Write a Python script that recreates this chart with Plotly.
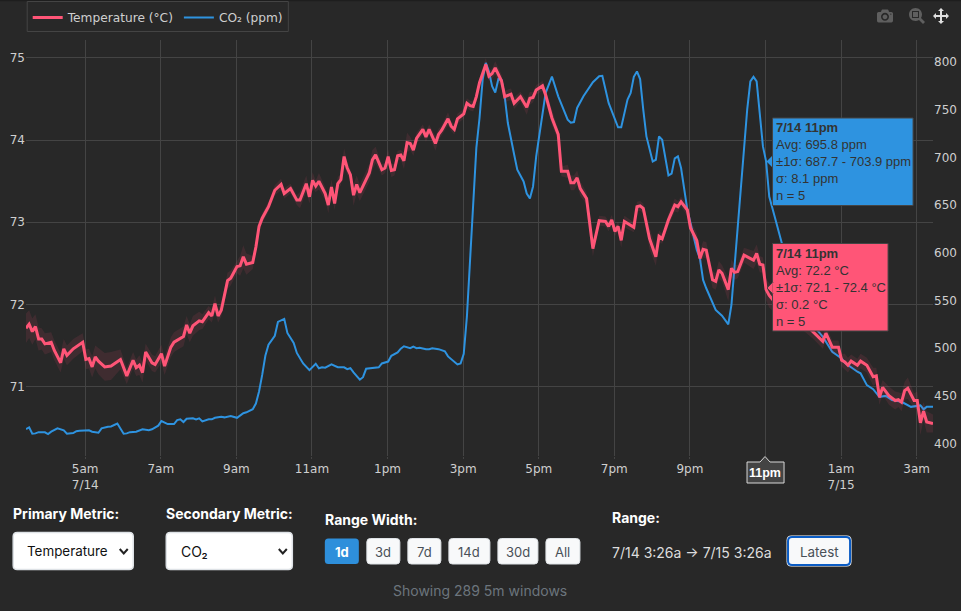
import datetime as dt
import plotly.graph_objects as go

# ---------- data ----------
START = dt.datetime(2024, 7, 14, 3, 26)
STEP_MIN = 5

temp_window = [
 0,1,2,3,4,5,6,8,9,11,
 12,13,15,18,19,20,21,22,23,25,
 27,30,32,34,35,36,37,38,40,41,
 43,44,46,47,50,51,52,53,55,56,
 58,59,60,61,62,64,65,67,68,69,
 70,72,73,74,75,76,77,79,81,82,
 84,86,87,89,90,91,92,93,95,96,
 97,98,99,100,101,102,103,104,105,106,
 109,110,111,113,114,115,116,117,118,119,
 120,121,122,123,124,126,127,128,130,131,
 132,134,135,136,137,139,140,141,142,143,
 144,146,147,148,149,151,152,154,155,157,
 159,160,161,162,164,165,167,168,169,170,
 172,173,174,175,176,178,180,182,184,185,
 186,187,188,189,190,193,194,195,196,198,
 200,201,202,204,206,207,208,210,211,213,
 214,215,216,218,219,220,221,223,224,225,
 226,228,231,232,233,234,235,236,239,245,
 250,251,253,254,256,258,259,260,261,262,
 264,265,267,269,270,271,272,274,276,277,
 278,279,280,282,283,284,285,286,288]
temp_avg = [
 71.71,71.76,71.67,71.73,71.58,71.58,71.52,71.54,71.44,71.29,
 71.46,71.38,71.46,71.54,71.33,71.34,71.24,71.36,71.31,71.24,
 71.25,71.33,71.13,71.32,71.23,71.26,71.17,71.42,71.29,71.27,
 71.40,71.25,71.48,71.54,71.61,71.75,71.65,71.74,71.80,71.79,
 71.90,71.86,72.01,71.86,71.93,72.29,72.32,72.46,72.47,72.58,
 72.49,72.51,72.70,72.95,73.05,73.12,73.19,73.39,73.46,73.35,
 73.41,73.27,73.27,73.47,73.31,73.51,73.44,73.50,73.35,73.21,
 73.43,73.23,73.47,73.52,73.80,73.66,73.58,73.33,73.46,73.36,
 73.60,73.76,73.82,73.64,73.66,73.80,73.63,73.64,73.81,73.82,
 73.75,73.97,73.96,73.88,74.02,74.13,74.04,74.13,73.96,74.07,
 74.12,74.26,74.17,74.13,74.26,74.32,74.45,74.42,74.41,74.53,
 74.70,74.92,74.78,74.81,74.88,74.72,74.53,74.56,74.45,74.53,
 74.40,74.51,74.52,74.61,74.66,74.55,74.27,74.17,74.07,73.62,
 73.62,73.48,73.48,73.54,73.41,73.29,72.68,73.02,73.01,72.95,
 73.03,72.89,72.95,72.78,73.01,72.94,73.19,73.20,73.17,72.80,
 72.58,72.83,72.80,73.03,73.21,73.19,73.25,73.15,72.93,72.78,
 72.56,72.67,72.66,72.30,72.28,72.42,72.38,72.18,72.44,72.39,
 72.40,72.60,72.54,72.62,72.49,72.48,72.18,72.11,71.97,71.85,
 71.67,71.63,71.55,71.65,71.48,71.48,71.32,71.30,71.26,71.31,
 71.26,71.31,71.26,71.12,71.13,70.87,70.99,70.89,70.83,70.84,
 70.81,70.95,70.98,70.83,70.83,70.56,70.70,70.57,70.55]
temp_sigma = [
 .18,.17,.16,.15,.14,.13,.13,.12,.12,.12,
 .12,.12,.12,.11,.12,.12,.13,.14,.16,.17,
 .17,.12,.10,.10,.10,.12,.12,.10,.10,.10,
 .11,.11,.12,.12,.12,.11,.11,.12,.11,.09,
 .08,.08,.10,.08,.08,.10,.09,.08,.12,.14,
 .13,.08,.07,.06,.06,.06,.06,.06,.07,.06,
 .06,.06,.10,.10,.08,.10,.07,.10,.08,.10,
 .09,.08,.08,.07,.10,.08,.06,.13,.11,.10,
 .11,.12,.10,.07,.06,.09,.08,.07,.06,.06,
 .10,.12,.08,.07,.07,.06,.06,.06,.09,.07,
 .06,.08,.06,.06,.06,.06,.06,.06,.06,.06,
 .06,.08,.06,.06,.08,.08,.07,.07,.07,.06,
 .09,.08,.06,.06,.06,.07,.09,.08,.07,.06,
 .08,.09,.09,.09,.09,.07,.10,.06,.06,.06,
 .06,.06,.06,.09,.07,.06,.06,.06,.06,.13,
 .11,.07,.06,.07,.08,.07,.06,.07,.08,.09,
 .09,.10,.10,.10,.10,.11,.10,.14,.11,.09,
 .08,.09,.11,.11,.10,.09,.13,.15,.11,.11,
 .09,.09,.09,.09,.08,.08,.08,.10,.09,.08,
 .08,.09,.09,.11,.10,.09,.09,.11,.11,.09,
 .11,.11,.13,.09,.11,.15,.11,.13,.11]

co2_window = [
 0,1,2,3,4,6,7,8,10,12,13,15,16,17,20,21,23,24,26,27,29,31,32,33,35,37,39,40,42,43,
 45,47,48,49,50,51,53,54,55,56,58,59,60,62,63,65,67,69,70,72,73,74,75,76,77,79,80,82,83,85,
 86,88,90,92,93,94,95,97,99,101,102,103,104,106,107,108,112,113,115,116,118,119,120,122,123,124,125,127,128,129,
 131,133,134,136,137,138,139,140,141,142,143,144,145,146,147,148,149,150,151,152,153,155,156,158,159,160,161,162,164,165,
 167,169,172,173,174,175,177,179,180,182,183,185,188,189,190,191,192,193,194,195,196,197,199,200,201,202,204,205,206,207,
 208,210,212,213,214,215,216,218,219,221,223,224,225,226,227,228,229,230,231,232,233,234,235,236,238,240,245,250,253,254,
 256,259,260,264,265,267,269,271,273,275,278,281,282,284,285,286,288]
co2_avg = [
 415.3,417,410.4,410.7,412,411.8,410,412.5,416,413.9,410.4,411,413,413.5,414,412.5,411.4,416,417.7,418,421,410.4,410.7,412,412.5,415,414,415,418.8,423.7,
 420.5,420.5,424.7,425.4,422.6,426,426.5,425.4,426.5,423.3,425.4,425.4,427,428,427.5,429,427,431.8,432.8,436,442,454.6,472,492,503.7,513,527.5,530.7,516,505.4,
 495,484,477,483.7,479,480,479.5,483,480,480,478,479,474.6,467,469.6,478.4,480,484,486,492,495.6,499.5,502,500,501.6,500,500.5,498.8,499,500,
 499,496.7,491.4,485.4,483,484,494,533,590,655,710,741,781.5,799,790,774.5,768,782,781,764,736,703,687,674.8,662,657,669.5,701,745,767.6,
 784.7,764,739.5,736.3,737,751.8,764,774.5,778.7,785,785.4,757,731.5,731.5,744.8,760.5,767.6,784.4,790,782,750,722,695.7,697.5,722,718.5,681,682.9,699,701,
 688.8,645,617,603,594,571.5,562.8,548.8,540,534,525,545.3,585.5,625.8,673,715,750,779.7,784.4,779.7,743,711.5,695.8,659,634.5,610,561,524,512,506.8,
 496.3,489.3,484.8,475.3,473.6,461.3,457,449,450,445.6,443.8,438.5,439,440,436,438.5,438.5]

tick_hours = [5, 7, 9, 11, 13, 15, 17, 19, 21, 23, 25, 27]
tick_labels = ["5am<br>7/14", "7am", "9am", "11am", "1pm", "3pm", "5pm", "7pm", "9pm", "", "1am<br>7/15", "3am"]
temp_ticks = [71, 72, 73, 74, 75]
co2_ticks = [400, 450, 500, 550, 600, 650, 700, 750, 800]

primary_options = "Temperature"
secondary_options = "CO₂"
range_buttons = ["1d", "3d", "7d", "14d", "30d", "All"]

# ---------- styles ----------
PINK = "#ff5577"
BLUE = "#2e93e0"
BG = "#282828"
GRID = "#444444"
TICK = "#cfcfcf"
L, R, T, B = 26.3, 932.9, 40.0, 456.0
W, H = R - L, B - T
px = lambda x: (x - L) / W
py = lambda y: (B - y) / H

def when(k):
    return START + dt.timedelta(minutes=STEP_MIN * k)

t_x = [when(k) for k in temp_window]
c_x = [when(k) for k in co2_window]
t_hi = [a + s for a, s in zip(temp_avg, temp_sigma)]
t_lo = [a - s for a, s in zip(temp_avg, temp_sigma)]

fig = go.Figure()
fig.add_trace(go.Scatter(x=c_x, y=co2_avg, yaxis="y", mode="lines", name="CO₂ (ppm)",
                         line=dict(color=BLUE, width=2), legendrank=2))
fig.add_trace(go.Scatter(x=t_x + t_x[::-1], y=t_hi + t_lo[::-1], yaxis="y2", mode="lines",
                         fill="toself", fillcolor="rgba(255,85,119,0.11)",
                         line=dict(width=0), showlegend=False, hoverinfo="skip"))
fig.add_trace(go.Scatter(x=t_x, y=temp_avg, yaxis="y2", mode="lines", name="Temperature (°C)",
                         line=dict(color=PINK, width=3), legendrank=1))

# ---------- helpers for the control strip and tooltips ----------
shapes, notes = [], []

def rrect(x0, y0, x1, y1, r, fill, line=None, lw=1):
    X0, X1 = px(x0), px(x1)
    Y0, Y1 = py(y0), py(y1)
    rx, ry = r / W, r / H
    p = (f"M {X0+rx} {Y0} L {X1-rx} {Y0} Q {X1} {Y0} {X1} {Y0-ry} "
         f"L {X1} {Y1+ry} Q {X1} {Y1} {X1-rx} {Y1} L {X0+rx} {Y1} Q {X0} {Y1} {X0} {Y1+ry} "
         f"L {X0} {Y0-ry} Q {X0} {Y0} {X0+rx} {Y0} Z")
    shapes.append(dict(type="path", xref="paper", yref="paper", path=p, fillcolor=fill,
                       line=dict(color=line or fill, width=lw if line else 0), layer="above"))

def poly(points, fill=None, line=None, lw=1):
    p = "M " + " L ".join(f"{px(x)} {py(y)}" for x, y in points)
    if fill:
        p += " Z"
    d = dict(type="path", xref="paper", yref="paper", path=p, layer="above",
             line=dict(color=line or "rgba(0,0,0,0)", width=lw if line else 0))
    if fill:
        d["fillcolor"] = fill
    shapes.append(d)

def label(x, y, text, size=14, color="#ffffff", anchor="left", family="Inter", yanchor="middle", align="left"):
    notes.append(dict(xref="paper", yref="paper", x=px(x), y=py(y), text=text, showarrow=False,
                      xanchor=anchor, yanchor=yanchor, align=align, borderpad=0,
                      font=dict(family=family, size=size, color=color)))

# top edge of the panel and legend frame
rrect(0, 0, 961, 1.2, 0, "#1e1e1e")
rrect(27.5, 1.5, 288.5, 31.5, 0, "rgba(0,0,0,0)", "#444444", 1)

# tooltips
HF = "Liberation Sans"
poly([(766.5, 161.5), (773, 155), (773, 168)], fill=BLUE)
rrect(772.5, 118, 913, 205.5, 0, BLUE, "#444444", 1)
label(774.5, 119, "<b>7/14 11pm</b><br>Avg: 695.8 ppm<br>±1σ: 687.7 - 703.9 ppm<br>σ: 8.1 ppm<br>n = 5",
      13, "#333333", family=HF, yanchor="top")
rrect(772.5, 243.5, 888, 331, 0, PINK, "#444444", 1)
poly([(767, 288), (773, 282), (773, 294)], fill=PINK, line="#444444", lw=1)
poly([(773.5, 282.5), (773.5, 293.5)], line=PINK, lw=2)
label(774.5, 244.5, "<b>7/14 11pm</b><br>Avg: 72.2 °C<br>±1σ: 72.1 - 72.4 °C<br>σ: 0.2 °C<br>n = 5",
      13, "#333333", family=HF, yanchor="top")

# spike label
poly([(747, 462), (760, 462), (765, 456.5), (770, 462), (784, 462), (784, 483), (747, 483)],
     fill="#444444", line="#d8d8d8", lw=1)
label(765.3, 472.8, "<b>11pm</b>", 12.5, "#ffffff", "center", "Liberation Sans")

# controls
label(12.5, 513, "<b>Primary Metric:</b>")
rrect(13.5, 532.5, 133.5, 569.5, 4, "#ffffff", "#dee2e6", 1.5)
label(26.5, 551, primary_options, 13.4, "#111111")
poly([(120, 549), (124, 553.5), (128, 549)], line="#222222", lw=2)

label(165.5, 513, "<b>Secondary Metric:</b>")
rrect(166.5, 532.5, 292.5, 569.5, 4, "#ffffff", "#dee2e6", 1.5)
label(180, 551, secondary_options, 14, "#111111")
poly([(279, 549), (283, 553.5), (287, 549)], line="#222222", lw=2)

label(324.5, 519, "<b>Range Width:</b>")
btn_x = [(325, 359), (367, 400), (408, 441), (449, 490), (498, 538), (546, 580)]
for i, (name, (a, b)) in enumerate(zip(range_buttons, btn_x)):
    active = i == 0
    rrect(a, 538.5, b, 564, 3.5, "#2e8fdb" if active else "#f8f9fa", None if active else "#dee2e6", 1)
    label((a + b) / 2, 551.5, f"<b>{name}</b>" if active else name, 13,
          "#ffffff" if active else "#495057", "center")

label(611.5, 517, "<b>Range:</b>")
label(611.5, 552, "7/14 3:26a → 7/15 3:26a", 14, "#dddddd")
rrect(786.5, 535.5, 851.5, 566.5, 5, "#ffffff")
rrect(788, 537, 850, 565, 4, "#f8f9fa", "#0b5cc4", 2)
label(819, 551.5, "Latest", 13.4, "#495057", "center")
label(480, 590, "Showing 289 5m windows", 14, "#6c757d", "center")

fig.update_layout(
    width=961, height=611, paper_bgcolor=BG, plot_bgcolor=BG,
    margin=dict(l=L, r=961 - R, t=T, b=611 - B, pad=0, autoexpand=False),
    font=dict(family="DejaVu Sans", size=12, color=TICK),
    hovermode=False, dragmode="pan",
    modebar=dict(bgcolor="rgba(0,0,0,0)", color="#5f5f5f", activecolor="#e0e0e0", orientation="h"),
    legend=dict(orientation="h", x=px(28), y=py(3), xanchor="left", yanchor="top",
                bgcolor="rgba(0,0,0,0)", borderwidth=0, traceorder="normal",
                font=dict(size=12.2, color=TICK)),
    xaxis=dict(type="date", range=[when(0), when(288)],
               tickmode="array",
               tickvals=[dt.datetime(2024, 7, 14) + dt.timedelta(hours=h) for h in tick_hours],
               ticktext=tick_labels, showgrid=True, gridcolor=GRID, gridwidth=1, zeroline=False,
               ticks="outside", ticklen=2, tickcolor=GRID, tickfont=dict(size=12, color=TICK)),
    yaxis=dict(range=[387, 823], side="right", tickmode="array", tickvals=co2_ticks,
               showgrid=False, zeroline=False, tickfont=dict(size=12, color=TICK)),
    yaxis2=dict(range=[70.155, 75.219], side="left", overlaying="y", tickmode="array", tickvals=temp_ticks,
                showgrid=True, gridcolor=GRID, gridwidth=1, zeroline=False,
                tickfont=dict(size=12, color=TICK)),
    shapes=shapes, annotations=notes,
)

config = dict(displayModeBar=True, displaylogo=False,
              modeBarButtons=[["toImage"], ["zoom2d", "pan2d"]])
post = ("document.body.style.margin='0';document.body.style.background='#282828';"
        "document.body.style.overflow='hidden';"
        "var m=document.querySelector('.modebar');if(m){m.style.transform='translate(-6px,3px)';}")
fig.write_html("out.html", config=config, post_script=post)
